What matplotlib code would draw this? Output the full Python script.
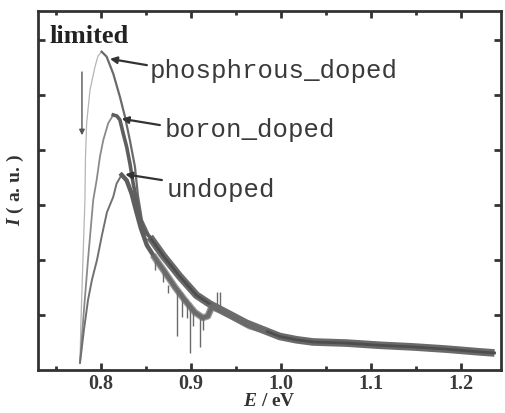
import matplotlib
matplotlib.use("Agg")
import matplotlib.pyplot as plt

plt.rcParams["mathtext.fontset"] = "custom"
plt.rcParams["mathtext.it"] = "Liberation Serif:italic:bold"
plt.rcParams["mathtext.rm"] = "Liberation Serif:bold"
plt.rcParams["mathtext.bf"] = "Liberation Serif:bold"

# ---- data ----
# shared tail of the doped curves (E in eV, intensity a.u.)
tail_E = [0.8544, 0.8692, 0.8878, 0.9063, 0.9211, 0.9433, 0.9619, 0.9803, 0.9989, 1.0174,
          1.0359, 1.0730, 1.1100, 1.1470, 1.1841, 1.2211, 1.2378]
tail_I = [2.42, 2.08, 1.70, 1.36, 1.20, 1.01, 0.85, 0.73, 0.61, 0.55,
          0.51, 0.49, 0.45, 0.42, 0.38, 0.33, 0.31]

# phosphorus doped
p_rise_E = [0.7767, 0.7778, 0.7800, 0.7822, 0.7828, 0.7841, 0.7878, 0.7933, 0.7967, 0.8008]
p_rise_I = [0.13, 0.91, 2.00, 3.09, 3.87, 4.49, 5.09, 5.51, 5.71, 5.79]
p_fall_E = [0.8008, 0.8063, 0.8137, 0.8211, 0.8267, 0.8322, 0.8378, 0.8411, 0.8456, 0.8544]
p_fall_I = [5.79, 5.70, 5.39, 4.97, 4.61, 4.18, 3.70, 3.18, 2.73, 2.42]

# boron doped
b_rise_E = [0.7767, 0.7811, 0.7856, 0.7914, 0.7952, 0.7989, 0.8026, 0.8081, 0.8137]
b_rise_I = [0.13, 1.09, 2.00, 3.09, 3.45, 3.88, 4.18, 4.49, 4.64]
b_fall_E = [0.8137, 0.8178, 0.8211, 0.8248, 0.8286, 0.8322, 0.8359, 0.8397, 0.8433, 0.8489, 0.8544]
b_fall_I = [4.64, 4.62, 4.55, 4.30, 4.06, 3.76, 3.39, 3.09, 2.76, 2.51, 2.42]

# undoped
u_rise_E = [0.7767, 0.7811, 0.7856, 0.7900, 0.7956, 0.8011, 0.8067, 0.8137, 0.8174, 0.8230]
u_rise_I = [0.13, 0.73, 1.27, 1.64, 2.00, 2.45, 2.87, 3.15, 3.39, 3.55]
u_fall_E = [0.8230, 0.8286, 0.8341, 0.8389, 0.8444, 0.8511, 0.8600, 0.8711, 0.8822, 0.8933,
            0.9044, 0.9133, 0.9189, 0.9233, 0.9322, 0.9489, 0.9656, 0.9803]
u_fall_I = [3.55, 3.45, 3.21, 2.91, 2.58, 2.27, 2.04, 1.78, 1.51, 1.27,
            1.05, 0.95, 0.98, 1.15, 1.09, 0.95, 0.80, 0.73]

# noise spikes on the undoped curve
spike_E = [0.8600, 0.8693, 0.8748, 0.8841, 0.8897, 0.8952, 0.8989, 0.9026, 0.9100, 0.9137, 0.9286, 0.9322]
spike_lo = [1.82, 1.60, 1.40, 0.61, 0.97, 0.95, 0.31, 0.80, 0.42, 0.73, 1.10, 1.08]
spike_hi = [2.04, 1.80, 1.55, 1.48, 1.40, 1.30, 1.22, 1.12, 1.00, 0.96, 1.42, 1.42]

x_major = [0.8, 0.9, 1.0, 1.1, 1.2]
x_minor = [0.75, 0.85, 0.95, 1.05, 1.15]
x_labels = ["0.8", "0.9", "1.0", "1.1", "1.2"]
y_ticks = [1, 2, 3, 4, 5, 6]

# ---- figure ----
fig = plt.figure(figsize=(5.05, 4.13), dpi=100)
ax = fig.add_axes([38/505, 43/413, 463/505, 359/413])
ax.set_xlim(0.73, 1.245)
ax.set_ylim(0, 6.53)

curve = "#5e5e5e"

# tail band (noisy -> thick)
ax.plot(tail_E, tail_I, color="#6a6a6a", lw=5.5, solid_capstyle="butt", solid_joinstyle="round")
ax.plot(tail_E, tail_I, color="#4e4e4e", lw=2.0, solid_joinstyle="round")

# rising edges (thin, light)
ax.plot(p_rise_E, p_rise_I, color="#b5b5b5", lw=0.9)
ax.plot(b_rise_E, b_rise_I, color="#8a8a8a", lw=1.3)
ax.plot(u_rise_E, u_rise_I, color="#707070", lw=1.4)

# falling edges
ax.plot(p_fall_E, p_fall_I, color="#6a6a6a", lw=1.6, solid_joinstyle="round")
ax.plot(b_fall_E, b_fall_I, color=curve, lw=2.6, solid_joinstyle="round")
ax.plot(u_fall_E, u_fall_I, color=curve, lw=3.2, solid_joinstyle="round")
ax.plot(u_fall_E[6:], u_fall_I[6:], color="#707070", lw=5.0, alpha=0.7, solid_joinstyle="round")

# spikes
ax.vlines(spike_E, spike_lo, spike_hi, color="#6a6a6a", lw=1.0)

# annotations
serif = "Liberation Serif"
mono = "Liberation Mono"
fs_lab = 18.5
tc = "#3a3a3a"
ax.text(0.8544, 5.31, "phosphrous_doped", family=mono, fontsize=fs_lab, color=tc, va="baseline")
ax.text(0.8711, 4.236, "boron_doped", family=mono, fontsize=fs_lab, color=tc, va="baseline")
ax.text(0.8733, 3.145, "undoped", family=mono, fontsize=fs_lab, color=tc, va="baseline")

ap = dict(arrowstyle="-|>", color="#333333", lw=1.6, mutation_scale=10, shrinkA=0, shrinkB=0)
ax.annotate("", xy=(0.8100, 5.66), xytext=(0.8511, 5.545), arrowprops=ap)
ax.annotate("", xy=(0.8230, 4.57), xytext=(0.8656, 4.455), arrowprops=ap)
ax.annotate("", xy=(0.8270, 3.56), xytext=(0.8678, 3.455), arrowprops=ap)
ax.annotate("", xy=(0.7789, 4.27), xytext=(0.7789, 5.42),
            arrowprops=dict(arrowstyle="-|>", color="#555555", lw=1.0, mutation_scale=8,
                            shrinkA=0, shrinkB=0))

ax.text(0.024, 0.911, "limited", transform=ax.transAxes, family=serif, fontsize=19,
        fontweight="bold", color="#222222", va="baseline")

# axes styling
for s in ax.spines.values():
    s.set_linewidth(2.0)
    s.set_color("#333333")
ax.set_xticks(x_major)
ax.set_xticklabels(x_labels)
ax.set_xticks(x_minor, minor=True)
ax.set_yticks(y_ticks)
ax.set_yticklabels([])
ax.tick_params(which="both", direction="in", top=True, right=True, color="#333333", width=2)
ax.tick_params(which="major", length=5)
ax.tick_params(which="minor", length=3)
ax.tick_params(axis="x", labelsize=14.5, pad=3)
for lab in ax.get_xticklabels():
    lab.set_family(serif)
    lab.set_fontweight("bold")
    lab.set_color("#3a3a3a")

ax.set_xlabel(r"$\mathit{E}$ / eV", family=serif, fontsize=14, fontweight="bold",
              color="#333333", labelpad=-1)
ax.set_ylabel(r"$\mathit{I}$ ( a. u. )", family=serif, fontsize=14, fontweight="bold",
              color="#333333", labelpad=5)

fig.savefig("out.png", dpi=100, facecolor="white")
